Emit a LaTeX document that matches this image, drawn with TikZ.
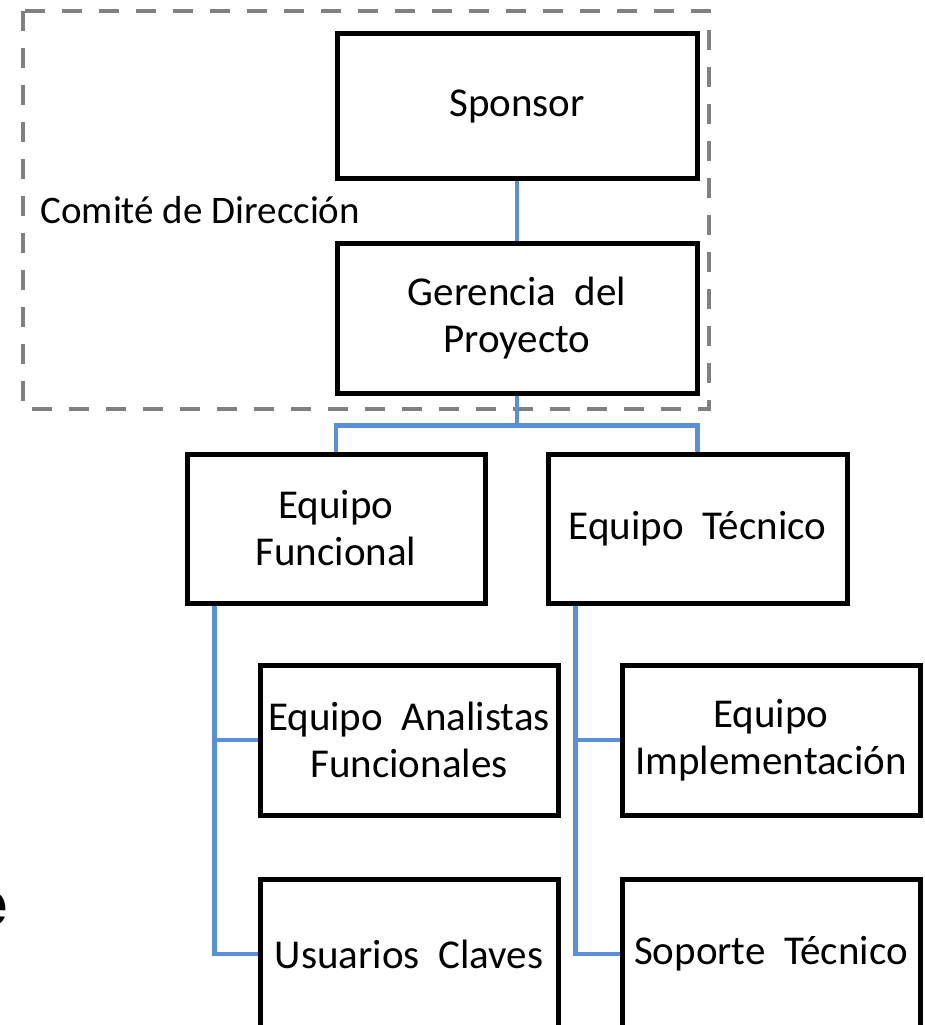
\documentclass[tikz,border=0pt]{standalone}
\usepackage{fontspec}
\setmainfont{Carlito}[WordSpace=2]
\newfontfamily\comitefont{Carlito}
\newfontfamily\letrafont{Liberation Sans}
\usepackage{tikz}
\definecolor{azul}{HTML}{5A8FD8}
\definecolor{gris}{HTML}{808080}
\tikzset{
	caja/.style 2 args={draw,line width=5pt,inner sep=0pt,minimum width=#1,minimum height=#2,align=center,font=\fontsize{41}{47}\selectfont},
	linea/.style={draw=azul,line width=4.5pt},
	marco/.style={draw=gris,line width=4pt,dash pattern=on 20pt off 17pt}
}

\begin{document}
\begin{tikzpicture}[x=1pt,y=-1pt]%[scale=1.5]
						\useasboundingbox (0,0) rectangle (925,1025);
						\clip (0,0) rectangle (925,1025);

						\draw [marco] (23,11) rectangle (709,409);
						\node [font=\fontsize{39}{47}\selectfont\comitefont,anchor=base west] (comite) at (37,223) {Comité de Dirección};
						\node [font=\fontsize{62}{62}\selectfont\letrafont\bfseries,anchor=base east,inner sep=0pt] (letra) at (8,925) {e};

						\node [caja={360pt}{144pt}] (sponsor) at (517,106) {Sponsor};
						\node [caja={360pt}{150pt}] (gerencia) at (517,318) {Gerencia del\\Proyecto};

						\node [caja={298pt}{149pt}] (funcional) at (336,528.5) {Equipo\\Funcional};
						\node [caja={299pt}{149pt}] (tecnico) at (697.5,528.5) {Equipo Técnico};

						\node [caja={298pt}{150pt}] (analistas) at (409,740) {Equipo Analistas\\Funcionales};
						\node [caja={298pt}{150pt}] (usuarios) at (409,954) {Usuarios Claves};
						\node [caja={298pt}{150pt}] (implementacion) at (771,740) {Equipo\\Implementación};
						\node [caja={298pt}{150pt}] (soporte) at (771,954) {Soporte Técnico};

						\coordinate (fbus) at ([xshift=30pt]funcional.south west);
						\coordinate (tbus) at ([xshift=30pt]tecnico.south west);

						\draw [linea] (sponsor.south) -- (gerencia.north);
						\draw [linea] (gerencia.south) -- ++(0,30) -| (funcional.north);
						\draw [linea] (gerencia.south) -- ++(0,30) -| (tecnico.north);
						\draw [linea] (fbus) |- (analistas.west);
						\draw [linea] (fbus) |- (usuarios.west);
						\draw [linea] (tbus) |- (implementacion.west);
						\draw [linea] (tbus) |- (soporte.west);
					\end{tikzpicture}
\end{document}
